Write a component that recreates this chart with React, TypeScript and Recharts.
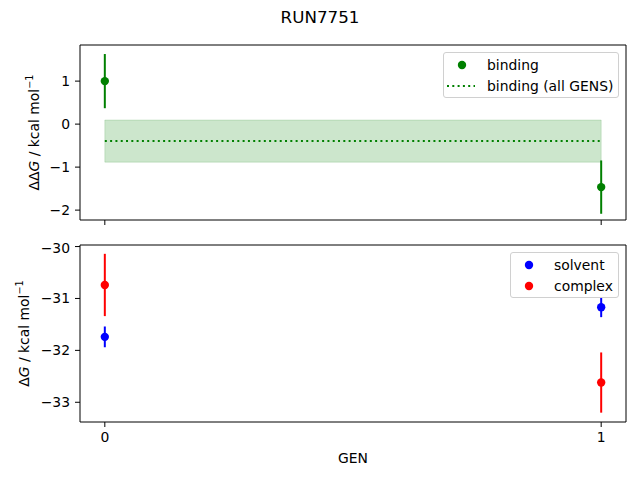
import React from 'react';
import {
  ComposedChart, Scatter, ErrorBar, XAxis, YAxis, ZAxis,
  ReferenceArea, ReferenceLine, Legend,
} from 'recharts';

const FONT = '"DejaVu Sans", sans-serif';

// generations on the x axis
const gens = [0, 1];

// top panel: binding free energy per GEN
const bindingDDG = [1.0, -1.465];
const bindingErr = [0.63, 0.62];
const bindingAllMean = -0.395;
const bindingAllErr = 0.49;

// bottom panel: solvent / complex legs
const solventDG = [-31.74, -31.17];
const solventErr = [0.2, 0.19];
const complexDG = [-30.74, -32.62];
const complexErr = [0.6, 0.58];

const topTicks = [-2, -1, 0, 1];
const bottomTicks = [-33, -32, -31, -30];
const xDomain: [number, number] = [-0.05, 1.05];
const topDomain: [number, number] = [-2.23, 1.84];
const bottomDomain: [number, number] = [-33.38, -29.97];

const toRows = (vals: number[], errs: number[]) =>
  gens.map((g, i) => ({ gen: g, value: vals[i], err: errs[i] }));

const bindingData = toRows(bindingDDG, bindingErr);
const solventData = toRows(solventDG, solventErr);
const complexData = toRows(complexDG, complexErr);

const fmt = (v: number) => String(v).replace('-', '\u2212');

const tickStyle = { fontSize: 13.9, fill: '#000', fontFamily: FONT };

function YLabel({ x, cy, prefix }: { x: number; cy: number; prefix: string }) {
  return (
    <text
      x={x}
      y={cy}
      transform={`rotate(-90, ${x}, ${cy})`}
      textAnchor="middle"
      dominantBaseline="central"
      fontSize={13.9}
      fontFamily={FONT}
      fill="#000"
    >
      {prefix}
      <tspan fontStyle="oblique">G</tspan>
      <tspan> / kcal mol</tspan>
      <tspan dy={-5} fontSize={9.7}>{'\u22121'}</tspan>
    </text>
  );
}

interface LegendItem {
  label: string;
  color: string;
  kind: 'dot' | 'dotted';
}

function LegendBox({ items, width }: { items: LegendItem[]; width: number }) {
  return (
    <div style={{
      width,
      height: 46,
      boxSizing: 'border-box',
      border: '1px solid #d0d0d0',
      borderRadius: 3,
      background: 'rgba(255,255,255,0.8)',
      padding: '2px 0 0 3px',
      fontFamily: FONT,
      fontSize: 13.9,
    }}>
      {items.map((it) => (
        <div key={it.label} style={{ display: 'flex', alignItems: 'center', height: 20.5 }}>
          <svg width={28} height={14}>
            {it.kind === 'dot' ? (
              <circle cx={15} cy={7} r={4.2} fill={it.color} />
            ) : (
              <line x1={0} y1={7} x2={28} y2={7} stroke={it.color} strokeWidth={2} strokeDasharray="2 3.3" />
            )}
          </svg>
          <span style={{ marginLeft: 12, lineHeight: '20px' }}>{it.label}</span>
        </div>
      ))}
    </div>
  );
}

export default function App() {
  return (
    <div style={{ position: 'absolute', left: 0, top: 0, width: 640, height: 480, background: '#fff' }}>
      <div style={{
        position: 'absolute', top: 7, left: 0, width: 640, height: 20, lineHeight: '20px',
        textAlign: 'center', fontFamily: FONT, fontSize: 16.7,
      }}>
        RUN7751
      </div>

      {/* top panel: ΔΔG */}
      <div style={{ position: 'absolute', left: 0, top: 0 }}>
        <ComposedChart width={640} height={240} margin={{ top: 45, right: 14, bottom: 0, left: 0 }}>
          <XAxis
            type="number"
            dataKey="gen"
            domain={xDomain}
            ticks={gens}
            allowDataOverflow
            height={20}
            axisLine={false}
            tickLine={{ stroke: '#000' }}
            tickSize={5}
            tickFormatter={() => ''}
          />
          <YAxis
            type="number"
            domain={topDomain}
            ticks={topTicks}
            allowDataOverflow
            width={80}
            axisLine={false}
            tickLine={{ stroke: '#000' }}
            tickSize={5}
            tickMargin={5}
            tick={tickStyle}
            tickFormatter={fmt}
            label={({ viewBox }: any) => (
              <YLabel x={34} cy={viewBox.y + viewBox.height / 2} prefix={'\u0394\u0394'} />
            )}
          />
          <ZAxis type="number" range={[55, 55]} />
          <ReferenceArea
            x1={0}
            x2={1}
            y1={bindingAllMean - bindingAllErr}
            y2={bindingAllMean + bindingAllErr}
            fill="green"
            fillOpacity={0.2}
            stroke="green"
            strokeOpacity={0.15}
          />
          <ReferenceLine
            segment={[{ x: 0, y: bindingAllMean }, { x: 1, y: bindingAllMean }]}
            stroke="green"
            strokeWidth={2}
            strokeDasharray="2 3.3"
          />
          <Scatter data={bindingData} dataKey="value" fill="green" isAnimationActive={false}>
            <ErrorBar dataKey="err" direction="y" width={0} stroke="green" strokeWidth={2} />
          </Scatter>
          <ReferenceArea
            x1={xDomain[0]}
            x2={xDomain[1]}
            y1={topDomain[0]}
            y2={topDomain[1]}
            fill="none"
            stroke="#000"
            strokeWidth={1}
          />
          <Legend
            layout="horizontal"
            verticalAlign="middle"
            align="center"
            wrapperStyle={{ position: 'absolute', top: 52, left: 443, width: 176 }}
            content={() => (
              <LegendBox
                width={176}
                items={[
                  { label: 'binding', color: 'green', kind: 'dot' },
                  { label: 'binding (all GENS)', color: 'green', kind: 'dotted' },
                ]}
              />
            )}
          />
        </ComposedChart>
      </div>

      {/* bottom panel: ΔG per leg */}
      <div style={{ position: 'absolute', left: 0, top: 240 }}>
        <ComposedChart width={640} height={240} margin={{ top: 5, right: 14, bottom: 0, left: 0 }}>
          <XAxis
            type="number"
            dataKey="gen"
            domain={xDomain}
            ticks={gens}
            allowDataOverflow
            height={58}
            axisLine={false}
            tickLine={{ stroke: '#000' }}
            tickSize={5}
            tickMargin={5}
            tick={tickStyle}
            label={({ viewBox }: any) => (
              <text
                x={viewBox.x + viewBox.width / 2}
                y={217.7}
                textAnchor="middle"
                dominantBaseline="central"
                fontSize={13.9}
                fontFamily={FONT}
                fill="#000"
              >
                GEN
              </text>
            )}
          />
          <YAxis
            type="number"
            domain={bottomDomain}
            ticks={bottomTicks}
            allowDataOverflow
            width={80}
            axisLine={false}
            tickLine={{ stroke: '#000' }}
            tickSize={5}
            tickMargin={5}
            tick={tickStyle}
            tickFormatter={fmt}
            label={({ viewBox }: any) => (
              <YLabel x={24} cy={viewBox.y + viewBox.height / 2} prefix={'\u0394'} />
            )}
          />
          <ZAxis type="number" range={[55, 55]} />
          <Scatter data={solventData} dataKey="value" fill="blue" isAnimationActive={false}>
            <ErrorBar dataKey="err" direction="y" width={0} stroke="blue" strokeWidth={2} />
          </Scatter>
          <Scatter data={complexData} dataKey="value" fill="red" isAnimationActive={false}>
            <ErrorBar dataKey="err" direction="y" width={0} stroke="red" strokeWidth={2} />
          </Scatter>
          <ReferenceArea
            x1={xDomain[0]}
            x2={xDomain[1]}
            y1={bottomDomain[0]}
            y2={bottomDomain[1]}
            fill="none"
            stroke="#000"
            strokeWidth={1}
          />
          <Legend
            layout="horizontal"
            verticalAlign="middle"
            align="center"
            wrapperStyle={{ position: 'absolute', top: 12, left: 510, width: 109 }}
            content={() => (
              <LegendBox
                width={109}
                items={[
                  { label: 'solvent', color: 'blue', kind: 'dot' },
                  { label: 'complex', color: 'red', kind: 'dot' },
                ]}
              />
            )}
          />
        </ComposedChart>
      </div>
    </div>
  );
}
